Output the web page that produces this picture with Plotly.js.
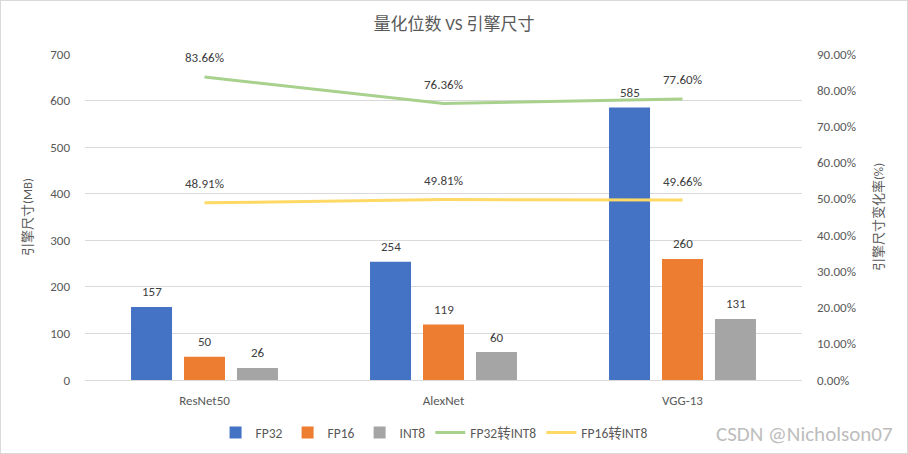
<!DOCTYPE html>
<html><head><meta charset="utf-8">
<script src="https://cdn.plot.ly/plotly-3.0.1.min.js"></script>
<style>
html,body{margin:0;padding:0;background:#fff;}
#wrap{width:908px;height:454px;box-sizing:border-box;border:1px solid #d9d9d9;}
#chart{width:906px;height:452px;}
</style></head>
<body><div id="wrap"><div id="chart"></div></div>
<script>
const categories = ["ResNet50", "AlexNet", "VGG-13"];
const fp32 = [157, 254, 585];
const fp16 = [50, 119, 260];
const int8 = [26, 60, 131];
const fp32ToInt8 = [83.66, 76.36, 77.60];
const fp16ToInt8 = [48.91, 49.81, 49.66];
const leftTicks = [0, 100, 200, 300, 400, 500, 600, 700];
const rightTicks = [0, 10, 20, 30, 40, 50, 60, 70, 80, 90];

const FONT = "Calibri, Carlito, 'Noto Sans CJK SC', 'Noto Sans', sans-serif";
const txt = {family: FONT, size: 13, color: '#404040'};

function barTrace(name, vals, color) {
  return {type: 'bar', name: name, x: categories, y: vals, marker: {color: color}, hoverinfo: 'y'};
}
function lineTrace(name, vals, color) {
  return {type: 'scatter', mode: 'lines', name: name, x: categories, y: vals, yaxis: 'y2',
    line: {color: color, width: 3}};
}
const traces = [
  barTrace('FP32', fp32, '#4472C4'),
  barTrace('FP16', fp16, '#ED7D31'),
  barTrace('INT8', int8, '#A5A5A5'),
  lineTrace('FP32转INT8', fp32ToInt8, '#A9D18E'),
  lineTrace('FP16转INT8', fp16ToInt8, '#FFD966')
];
const annotations = [];
[fp32, fp16, int8].forEach((arr, j) => arr.forEach((v, i) => {
  annotations.push({x: categories[i], y: v, xref: 'x', yref: 'y', text: String(v),
    showarrow: false, yshift: 15, xshift: (j - 1) * 53, font: txt});
}));
[fp32ToInt8, fp16ToInt8].forEach(arr => arr.forEach((v, i) => {
  annotations.push({x: categories[i], y: v, xref: 'x', yref: 'y2', text: v.toFixed(2) + '%',
    showarrow: false, yshift: 19, font: txt});
}));
annotations.push({xref: 'paper', yref: 'paper', x: 1.13, y: -0.165, xanchor: 'right', yanchor: 'middle',
  text: 'CSDN @Nicholson07', showarrow: false, font: {family: FONT, size: 21, color: '#bdbdbd'}});

const layout = {
  width: 906, height: 452,
  margin: {l: 84, r: 105, t: 53, b: 73},
  paper_bgcolor: '#fff', plot_bgcolor: '#fff',
  font: {family: FONT, size: 13, color: '#595959'},
  title: {text: '量化位数 VS 引擎尺寸', x: 0.5, xref: 'container', y: 0.95, yref: 'container', yanchor: 'middle',
    font: {family: FONT, size: 17, color: '#595959'}},
  barmode: 'group', bargap: 0.335, bargroupgap: 0.226,
  xaxis: {type: 'category', showgrid: false, showline: true, linecolor: '#d9d9d9', linewidth: 1,
    ticks: '', ticklabelstandoff: 8, tickfont: {family: FONT, size: 13, color: '#595959'}},
  yaxis: {range: [0, 700], tickvals: leftTicks, ticktext: leftTicks.map(String),
    showgrid: true, gridcolor: '#d9d9d9', zeroline: false, showline: false, ticks: '',
    ticklabelstandoff: 14,
    title: {text: '引擎尺寸(MB)', standoff: 14, font: {family: FONT, size: 13, color: '#595959'}},
    tickfont: {family: FONT, size: 13, color: '#595959'}},
  yaxis2: {overlaying: 'y', side: 'right', range: [0, 90], tickvals: rightTicks,
    ticktext: rightTicks.map(v => v.toFixed(2) + '%'), showgrid: false, zeroline: false,
    showline: false, ticks: '', ticklabelstandoff: 14,
    title: {text: '引擎尺寸变化率(%)', standoff: 18, font: {family: FONT, size: 13, color: '#595959'}},
    tickfont: {family: FONT, size: 13, color: '#595959'}},
  legend: {orientation: 'h', xref: 'container', yref: 'container', x: 0.478, xanchor: 'center',
    y: 0.045, yanchor: 'middle', font: {family: FONT, size: 13.5, color: '#595959'},
    traceorder: 'normal', itemwidth: 30},
  annotations: annotations,
  showlegend: true
};
Plotly.newPlot('chart', traces, layout, {displayModeBar: false, staticPlot: true});
</script></body></html>
